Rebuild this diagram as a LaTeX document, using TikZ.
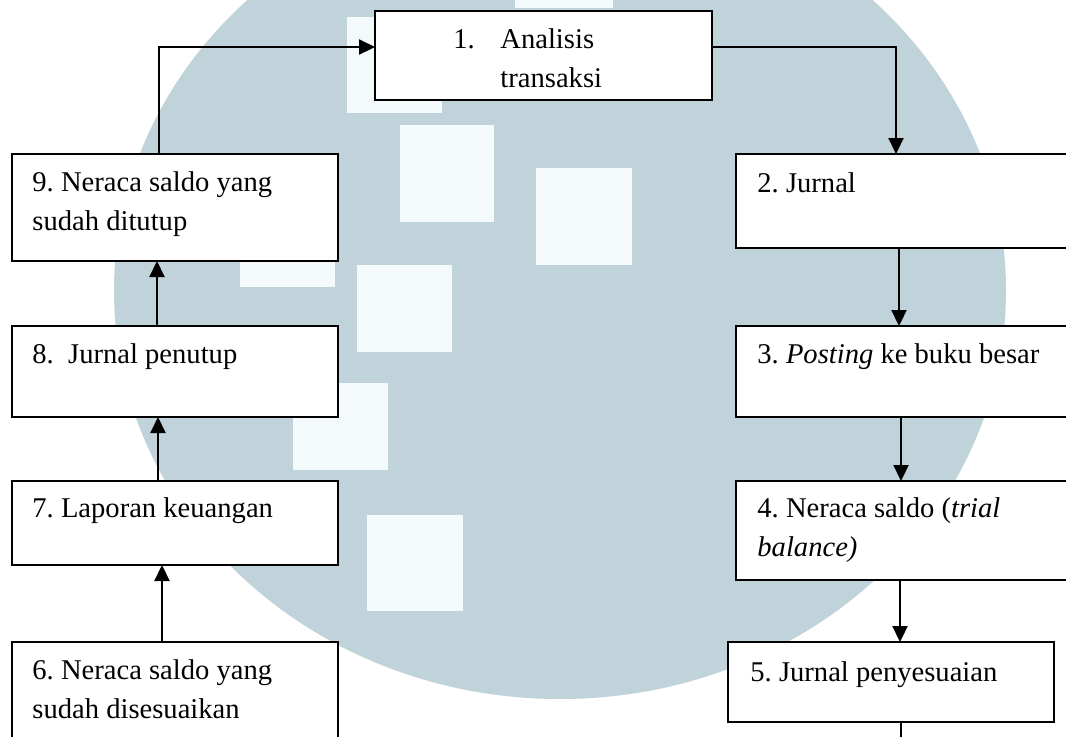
\documentclass[tikz,border=0pt]{standalone}
\usepackage{fontspec}
\setmainfont{Liberation Serif}
\usetikzlibrary{arrows.meta}
\definecolor{wm}{RGB}{193,211,218}
\definecolor{wmlight}{RGB}{244,249,251}
\frenchspacing
\begin{document}
\begin{tikzpicture}[x=0.5pt,y=-0.5pt,
  box/.style={draw=black,line width=1.2pt,fill=white,anchor=north west,inner sep=0pt,outer sep=0pt},
  lbl/.style={anchor=base west,inner sep=0pt,align=left,font=\fontsize{14.3}{19.25}\selectfont},
  arr/.style={line width=1.1pt,-{Triangle[length=8pt,width=7.5pt]}},
  ln/.style={line width=1.1pt},
  sq/.style={fill=wmlight}]
\clip (0,0) rectangle (1066,736);
\fill[white] (0,0) rectangle (1066,736);
% watermark
\fill[wm] (560,291) ellipse [x radius=446, y radius=408];
\fill[sq] (347,17) rectangle (442,113);
\fill[sq] (400,125) rectangle (494,222);
\fill[sq] (536,168) rectangle (632,265);
\fill[sq] (240,190) rectangle (335,287);
\fill[sq] (357,265) rectangle (452,352);
\fill[sq] (293,383) rectangle (388,470);
\fill[sq] (367,515) rectangle (463,611);
\fill[sq] (515,0) rectangle (613,8);
% boxes
\node[box,minimum width=168.5pt,minimum height=44.5pt] (b1) at (375,11) {};
\node[box,minimum width=172pt,minimum height=47pt] (b2) at (736,154) {};
\node[box,minimum width=172pt,minimum height=45.5pt] (b3) at (736,326) {};
\node[box,minimum width=172pt,minimum height=49.5pt] (b4) at (736,481) {};
\node[box,minimum width=163pt,minimum height=40pt] (b5) at (728,642) {};
\node[box,minimum width=163pt,minimum height=53.5pt] (b9) at (12,154) {};
\node[box,minimum width=163pt,minimum height=45.5pt] (b8) at (12,326) {};
\node[box,minimum width=163pt,minimum height=42pt] (b7) at (12,481) {};
\node[box,minimum width=163pt,minimum height=60pt] (b6) at (12,642) {};
% texts (multi-line nodes: base = last line)
\node[lbl] (t1) at (453,87) {\makebox[23.5pt][l]{1.}Analisis\\\hspace*{23.5pt}transaksi};
\node[lbl] (t2) at (757,192) {2. Jurnal};
\node[lbl] (t3) at (757,363) {3. \textit{Posting} ke buku besar};
\node[lbl] (t4) at (757,556) {4. Neraca saldo (\textit{trial}\\\textit{balance)}};
\node[lbl] (t5) at (750,681) {5. Jurnal penyesuaian};
\node[lbl] (t9) at (32,230) {9. Neraca saldo yang\\sudah ditutup};
\node[lbl] (t8) at (32,363) {8.\ \ Jurnal penutup};
\node[lbl] (t7) at (32,517) {7. Laporan keuangan};
\node[lbl] (t6) at (32,718) {6. Neraca saldo yang\\sudah disesuaikan};
% connectors
\coordinate (k9) at (159,47);
\coordinate (k1) at (896,47);
\coordinate (k2) at (899,0);
\coordinate (k3) at (901,0);
\coordinate (k4) at (900,0);
\coordinate (k5) at (901,760);
\coordinate (k8) at (157,0);
\coordinate (k7) at (158,0);
\coordinate (k6) at (162,0);
\draw[arr] (b9.north -| k9) -- (k9) -- (b1.west |- k9);
\draw[arr] (b1.east |- k1) -- (k1) -- (b2.north -| k1);
\draw[arr] (b2.south -| k2) -- (b3.north -| k2);
\draw[arr] (b3.south -| k3) -- (b4.north -| k3);
\draw[arr] (b4.south -| k4) -- (b5.north -| k4);
\draw[ln] (b5.south -| k5) -- (k5);
\draw[arr] (b8.north -| k8) -- (b9.south -| k8);
\draw[arr] (b7.north -| k7) -- (b8.south -| k7);
\draw[arr] (b6.north -| k6) -- (b7.south -| k6);
\end{tikzpicture}
\end{document}
